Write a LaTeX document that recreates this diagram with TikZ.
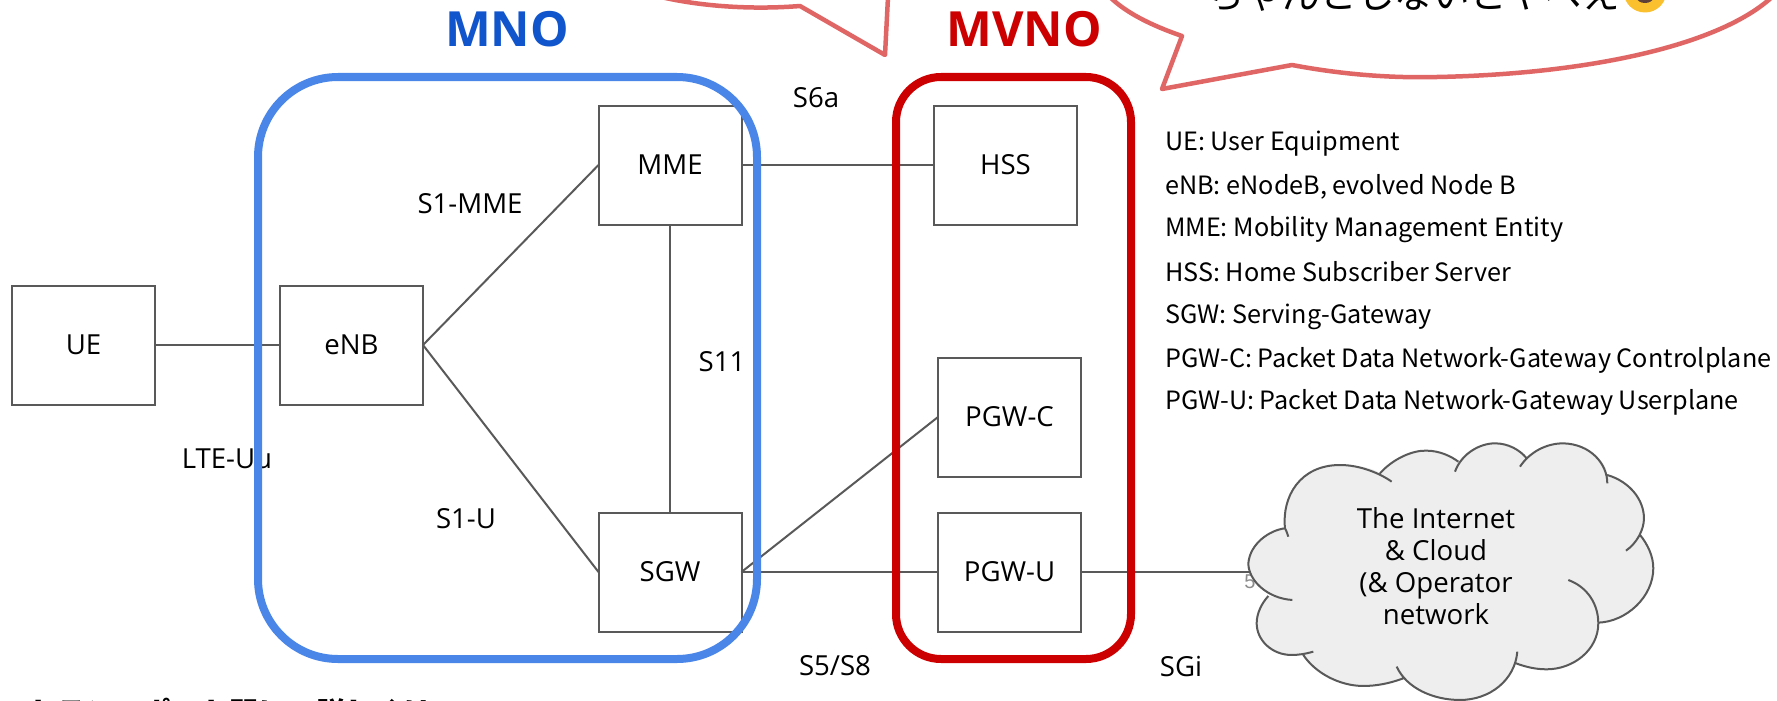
\documentclass[tikz,border=0pt]{standalone}
\usepackage{fontspec}
\setmainfont{Open Sans}
\newfontfamily\cjk{Noto Sans CJK JP}
\newfontfamily\arialish{Liberation Sans}
\definecolor{linegray}{HTML}{595959}
\definecolor{mnoblue}{HTML}{4A86E8}
\definecolor{mnotitle}{HTML}{1155CC}
\definecolor{mvnored}{HTML}{CC0000}
\definecolor{balloon}{HTML}{E06666}
\definecolor{cloudfill}{HTML}{EEEEEE}
\definecolor{emojiyellow}{HTML}{FBC02D}
\definecolor{emojidark}{HTML}{5D4037}
\tikzset{
  netbox/.style={draw=linegray,line width=2pt,fill=white,minimum width=143pt,minimum height=119pt,inner sep=0pt,outer sep=0pt,font=\fontsize{27.6}{32}\selectfont},
  link/.style={draw=linegray,line width=2pt},
  lbl/.style={inner sep=0pt,font=\fontsize{27.6}{32}\selectfont},
  legend/.style={inner sep=0pt,anchor=west,font=\cjk\fontsize{25.2}{28}\selectfont},
  domainbox/.style={line width=8pt,rounded corners=#1},
  title/.style={inner sep=0pt,font=\bfseries\fontsize{48.5}{54}\selectfont},
  bubble/.style={draw=balloon,line width=4.5pt,line join=round,fill=white},
  cloudline/.style={draw=linegray,line width=2pt},
}
\begin{document}
\begin{tikzpicture}[x=1pt,y=-1pt]
\useasboundingbox (0,0) rectangle (1777,701);
\clip (0,0) rectangle (1777,701);
% speech balloons
\path[bubble] (661,-3) .. controls (700,6) and (750,10) .. (800,6) -- (885,55) -- (888,-3);
\path[bubble] (1110,-3) .. controls (1125,12) and (1150,25) .. (1182,36) -- (1162,89) -- (1292,65)
   .. controls (1350,76) and (1400,78) .. (1437,77) .. controls (1590,74) and (1720,45) .. (1772,-3);
\node[inner sep=0pt,anchor=east,font=\cjk\fontsize{37.5}{42}\selectfont] (warn) at (1620,-5) {ちゃんとしないとヤベえ};
\fill[emojiyellow] (1645,-9) circle (21.5pt);
\fill[emojidark] (1645,-2) ellipse (8pt and 5pt);
% titles
\node[title,text=mnotitle] (mnotitle) at (507,29) {MNO};
\node[title,text=mvnored] (mvnotitle) at (1024,29) {MVNO};
% boxes
\node[netbox] (ue) at (83.5,345) {UE};
\node[netbox] (enb) at (351.5,345) {eNB};
\node[netbox] (mme) at (670,165) {MME};
\node[netbox] (sgw) at (670,572) {SGW};
\node[netbox] (hss) at (1005.5,165) {HSS};
\node[netbox] (pgwc) at (1009.5,417) {PGW-C};
\node[netbox] (pgwu) at (1009.5,572) {PGW-U};
% interface labels
\node[lbl] (s6a) at (816,98) {S6a};
\node[lbl] (s1mme) at (470,204) {S1-MME};
\node[lbl] (s11) at (722,362) {S11};
\node[lbl] (lteuu) at (227,459) {LTE-Uu};
\node[lbl] (s1u) at (466,519) {S1-U};
\node[lbl] (s5s8) at (835,666) {S5/S8};
\node[lbl] (sgi) at (1181,666) {SGi};
% connectors
\coordinate (cloudport) at (1250,572);
\draw[link] (ue) -- (enb);
\draw[link] (enb.east) -- (mme.west);
\draw[link] (enb.east) -- (sgw.west);
\draw[link] (mme) -- (sgw);
\draw[link] (mme) -- (hss);
\draw[link] (sgw.east) -- (pgwc.west);
\draw[link] (sgw) -- (pgwu);
\draw[link] (pgwu.east) -- (cloudport);
\node[inner sep=0pt,text=black!45,font=\arialish\fontsize{20}{24}\selectfont] (five) at (1250,582) {5};
% cloud
\begin{scope}[shift={(1200,430)},x=0.3333pt,y=-0.3333pt]
\def\lobes{
 (277,510) .. controls (200,505) and (145,450) .. (145,400) .. controls (150,340) and (210,300) .. (255,295) .. controls (258,300) and (262,310) .. (265,320)
 (255,295) .. controls (245,200) and (300,105) .. (420,105) .. controls (480,105) and (540,130) .. (575,155)
 (540,130) .. controls (580,85) and (640,60) .. (680,62) .. controls (720,62) and (755,80) .. (775,95)
 (765,125) .. controls (785,70) and (840,40) .. (885,40) .. controls (925,40) and (960,60) .. (980,85)
 (960,110) .. controls (990,65) and (1040,40) .. (1090,40) .. controls (1170,42) and (1222,100) .. (1222,160)
 (1222,135) .. controls (1290,155) and (1332,210) .. (1332,265) .. controls (1332,300) and (1310,340) .. (1278,362)
 (1318,312) .. controls (1345,345) and (1360,380) .. (1360,415) .. controls (1360,500) and (1280,575) .. (1195,578)
 (1105,450) .. controls (1160,470) and (1195,520) .. (1195,580) .. controls (1195,660) and (1120,718) .. (1040,718) .. controls (1005,718) and (975,710) .. (948,700)
 (952,665) .. controls (945,750) and (870,810) .. (780,810) .. controls (700,810) and (620,775) .. (590,710)
 (610,745) .. controls (570,760) and (530,768) .. (490,768) .. controls (420,768) and (345,730) .. (308,672)
 (340,665) .. controls (315,672) and (295,675) .. (275,675) .. controls (215,675) and (170,630) .. (170,580) .. controls (170,550) and (185,520) .. (205,498)
}
\fill[cloudfill] (277,510) .. controls (200,505) and (145,450) .. (145,400) .. controls (150,340) and (210,300) .. (255,295) .. controls (245,200) and (300,105) .. (420,105) .. controls (480,105) and (520,115) .. (540,130) .. controls (580,85) and (640,60) .. (680,62) .. controls (720,62) and (750,80) .. (775,95) .. controls (800,60) and (840,40) .. (885,40) .. controls (925,40) and (960,60) .. (980,85) .. controls (1010,55) and (1040,40) .. (1090,40) .. controls (1170,42) and (1222,100) .. (1222,135) .. controls (1290,155) and (1332,210) .. (1332,265) .. controls (1332,285) and (1325,300) .. (1318,312) .. controls (1345,345) and (1360,380) .. (1360,415) .. controls (1360,500) and (1280,575) .. (1195,578) .. controls (1190,660) and (1120,718) .. (1040,718) .. controls (1005,718) and (975,710) .. (948,700) .. controls (925,770) and (860,810) .. (780,810) .. controls (710,810) and (650,790) .. (610,745) .. controls (570,760) and (530,768) .. (490,768) .. controls (420,768) and (345,730) .. (308,672) .. controls (295,675) and (285,675) .. (275,675) .. controls (215,675) and (170,630) .. (170,580) .. controls (170,550) and (185,520) .. (205,498) -- cycle;
\path[cloudline] \lobes;
\end{scope}
\node[lbl,align=center] (cloud) at (1436,566) {The Internet\\\& Cloud\\(\& Operator\\network};
% domains
\draw[domainbox=80pt,draw=mnoblue] (258,77) rectangle (757,659);
\draw[domainbox=45pt,draw=mvnored] (896,77) rectangle (1131,659);
% legend
\node[legend] (l1) at (1165,144) {UE: User Equipment};
\node[legend] (l2) at (1165,187) {eNB: eNodeB, evolved Node B};
\node[legend] (l3) at (1165,230) {MME: Mobility Management Entity};
\node[legend] (l4) at (1165,272) {HSS: Home Subscriber Server};
\node[legend] (l5) at (1165,317) {SGW: Serving-Gateway};
\node[legend] (l6) at (1165,360) {PGW-C: Packet Data Network-Gateway Controlplane};
\node[legend] (l7) at (1165,402) {PGW-U: Packet Data Network-Gateway Userplane};
% clipped note at the bottom
\node[inner sep=0pt,anchor=west,font=\cjk\bfseries\fontsize{29}{34}\selectfont] (note) at (27,712) {トランスポート間に　詳しくは};
\end{tikzpicture}
\end{document}
